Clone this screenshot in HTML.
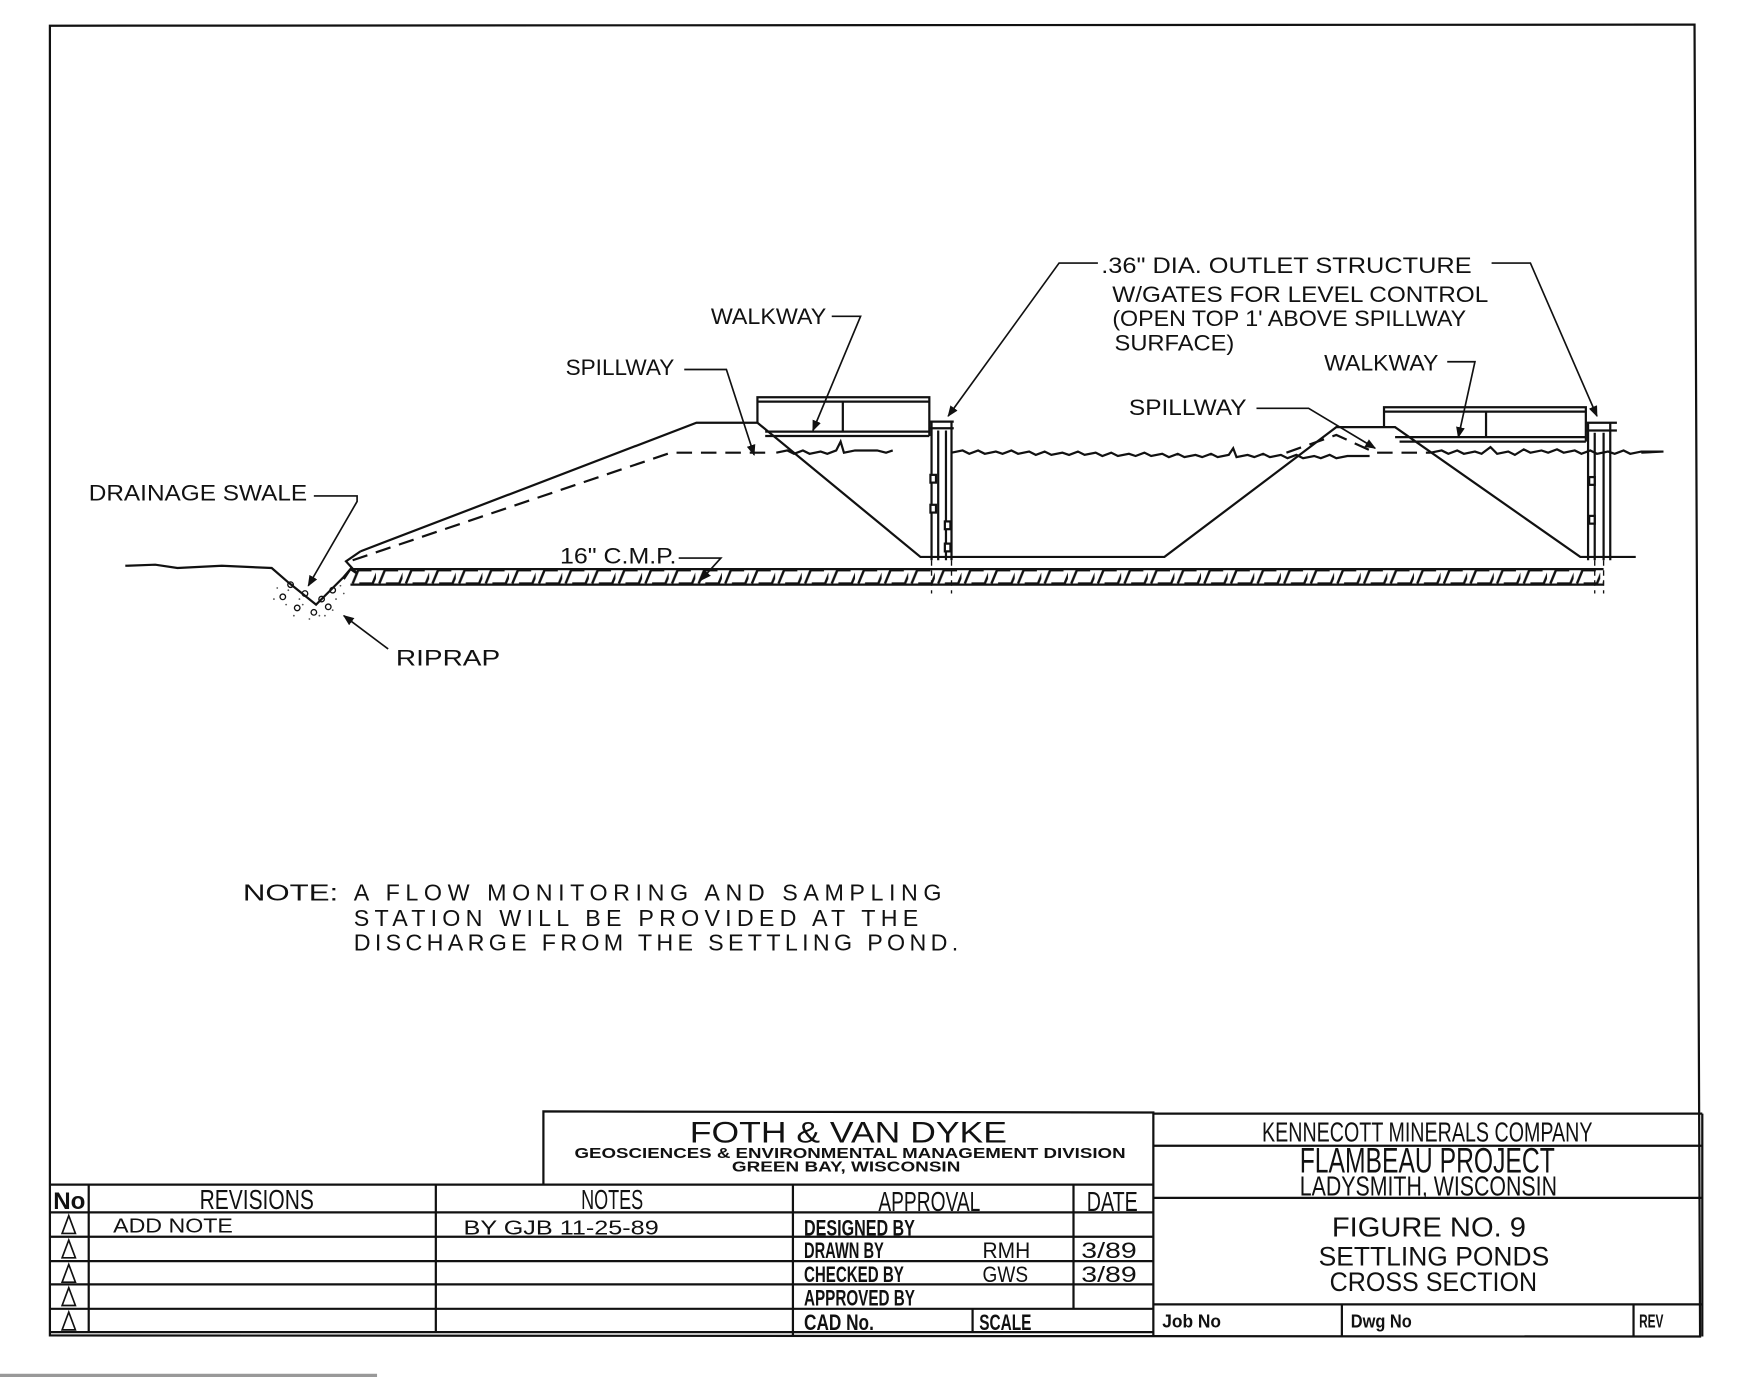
<!DOCTYPE html>
<html><head><meta charset="utf-8"><style>
html,body{margin:0;padding:0;background:#fff;}
svg{display:block;}
text{font-family:"Liberation Sans",sans-serif;fill:#111;}
</style></head><body>
<svg width="1740" height="1380" viewBox="0 0 1569 1244" xmlns="http://www.w3.org/2000/svg">
<defs>
<pattern id="hp" x="315" y="513" width="24" height="14" patternUnits="userSpaceOnUse">
<path d="M3 13 L8 1 L20 1 M9 13 L21 13 L26 1" fill="none" stroke="#111" stroke-width="2.2"/>
</pattern>
<marker id="ar" markerWidth="10" markerHeight="8" refX="9" refY="4" orient="auto" markerUnits="userSpaceOnUse"><path d="M0 0 L10 4 L0 8 Z" fill="#111"/></marker>
</defs>
<g fill="none" stroke="#111" stroke-width="2">
<path d="M45 23 L1528 22 L1533 1205 L45 1204 Z"/>
<line x1="0" y1="1240" x2="340" y2="1240" stroke="#999" stroke-width="3"/>
<path d="M113 510 L140 509 L160 512 L200 510 L245 512 L260 525 L285 545 L300 530 L310 520 L316 513" />
<path d="M310 522 L316 513 L322 517 L312 506 L325 497"/>
<rect x="316" y="513" width="1130" height="14" fill="url(#hp)" stroke="none"/>
<line x1="316" y1="513" x2="1446" y2="513"/>
<line x1="316" y1="527" x2="1446" y2="527"/>
<path d="M325 497 L628 381 L683 381 L830 502 L858 502 L1050 502 L1205 385 L1258 385 L1425 502 L1475 502"/>
<path d="M318 505 L605 408 L690 408" stroke-dasharray="14 8"/>
<path d="M1160 408 L1205 392 L1240 408 L1290 408" stroke-dasharray="14 8"/>
<path d="M700 408 l10 -2 l6 3 l8 -3 l6 3 l10 -2 l6 2 l8 -3 l4 -8 l3 10 l10 -2 l20 0 l8 2 l6 -2" />
<path d="M858 408 l10 -2 l6 3 l8 -3 l6 3 l10 -2 l6 2 l8 -3 l6 3 l10 -2 l6 3 l8 -3 l6 3 l10 -2 l6 2 l8 -3 l6 3 l10 -2 l6 3 l8 -3 l6 3 l10 -2 l6 2 l8 -3 l6 3 l10 -2 l6 3 l8 -3 l6 3 l10 -2 l6 2 l8 -3 l6 3 l10 -2 l4 -6 l3 8 l10 -2 l6 2 l8 -3 l6 3 l10 -2 l6 3 l8 -3 l6 3 l10 -2 l6 2 l8 -3 l6 3 l10 -2 l20 0"/>
<path d="M1290 408 l10 -2 l6 3 l8 -3 l6 3 l10 -2 l6 2 l8 -6 l6 6 l10 -2 l6 3 l8 -5 l6 3 l10 -2 l6 2 l8 -3 l6 3 l10 -2 l6 3 l8 -3 l6 3 l10 -2 l6 2 l8 -3 l6 3 l10 -2 l20 0 L1480 408" />
<path d="M683 381 L683 358 L838 358 L838 393 M683 362 L838 362 M690 389 L838 389 M690 393 L838 393 M760 362 L760 389"/>
<path d="M840 380 L840 505 M846 388 L846 505 M853 388 L853 505 M858 380 L858 505 M838 380 L860 380 M838 386 L860 386"/>
<path d="M840 505 L840 535 M858 505 L858 535" stroke-dasharray="5 4" stroke-width="1.2"/>
<rect x="839" y="428" width="5" height="7" fill="#fff"/><rect x="839" y="455" width="5" height="7" fill="#fff"/><rect x="852" y="470" width="5" height="7" fill="#fff"/><rect x="852" y="490" width="5" height="7" fill="#fff"/>
<path d="M1248 385 L1248 367 L1430 367 L1430 398 M1248 371 L1430 371 M1258 394 L1430 394 M1262 398 L1430 398 M1340 371 L1340 394"/>
<path d="M1432 381 L1432 505 M1438 390 L1438 505 M1446 390 L1446 505 M1452 381 L1452 505 M1430 381 L1458 381 M1430 388 L1458 388"/>
<path d="M1438 505 L1438 535 M1446 505 L1446 535" stroke-dasharray="5 4" stroke-width="1.2"/>
<rect x="1433" y="430" width="5" height="7" fill="#fff"/><rect x="1433" y="465" width="5" height="7" fill="#fff"/>
<g stroke-width="1.2"><circle cx="262" cy="527" r="2.5"/><circle cx="275" cy="535" r="2.5"/><circle cx="290" cy="540" r="2.5"/><circle cx="300" cy="532" r="2.5"/><circle cx="268" cy="548" r="2.5"/><circle cx="283" cy="552" r="2.5"/><circle cx="296" cy="547" r="2.5"/><circle cx="255" cy="538" r="2.5"/></g>
<g stroke="none" fill="#555"><circle cx="250" cy="530" r=".8"/><circle cx="258" cy="545" r=".8"/><circle cx="265" cy="555" r=".8"/><circle cx="273" cy="545" r=".8"/><circle cx="279" cy="558" r=".8"/><circle cx="288" cy="555" r=".8"/><circle cx="303" cy="540" r=".8"/><circle cx="307" cy="528" r=".8"/><circle cx="247" cy="540" r=".8"/><circle cx="260" cy="532" r=".8"/><circle cx="270" cy="540" r=".8"/><circle cx="293" cy="555" r=".8"/><circle cx="300" cy="550" r=".8"/><circle cx="310" cy="535" r=".8"/></g>
<g stroke-width="1.5">
<path d="M283 447 L322 447 L322 452 L278 528" marker-end="url(#ar)"/>
<path d="M350 585 L310 555" marker-end="url(#ar)"/>
<path d="M617 333 L655 333 L680 410" marker-end="url(#ar)"/>
<path d="M750 285 L776 285 L733 388" marker-end="url(#ar)"/>
<path d="M612 503 L650 503 L632 523" marker-end="url(#ar)"/>
<path d="M990 237 L955 237 L855 375" marker-end="url(#ar)"/>
<path d="M1345 237 L1380 237 L1440 375" marker-end="url(#ar)"/>
<path d="M1305 326 L1330 326 L1315 394" marker-end="url(#ar)"/>
<path d="M1133 368 L1180 368 L1240 404" marker-end="url(#ar)"/>
</g>
<path d="M490 1068 L490 1002 L1040 1003 L1040 1205"/>
<path d="M1040 1004 L1535 1004 M1040 1033 L1535 1033 M1040 1080 L1535 1080 M1040 1176 L1535 1176 M1535 1004 L1535 1205"/>
<path d="M45 1068 L1040 1068 M45 1093 L1040 1093 M45 1115 L1040 1115 M45 1137 L1040 1137 M45 1158 L1040 1158 M45 1180 L1040 1180 M45 1201 L1040 1201"/>
<path d="M80 1068 L80 1201 M393 1068 L393 1201 M715 1068 L715 1205 M968 1068 L968 1180 M877 1180 L877 1201 M1210 1176 L1210 1205 M1473 1176 L1473 1205"/>
<g stroke-width="1.5"><path d="M56 1112 L62 1096 L68 1112 Z M56 1134 L62 1118 L68 1134 Z M56 1156 L62 1140 L68 1156 Z M56 1177 L62 1161 L68 1177 Z M56 1199 L62 1183 L68 1199 Z"/></g>
</g>
<g font-size="20" lengthAdjust="spacingAndGlyphs">
<text x="80" y="451" textLength="197" lengthAdjust="spacingAndGlyphs">DRAINAGE SWALE</text>
<text x="357" y="600" textLength="94" lengthAdjust="spacingAndGlyphs">RIPRAP</text>
<text x="510" y="338" textLength="98" lengthAdjust="spacingAndGlyphs">SPILLWAY</text>
<text x="641" y="292" textLength="104" lengthAdjust="spacingAndGlyphs">WALKWAY</text>
<text x="505" y="508" textLength="105" lengthAdjust="spacingAndGlyphs">16" C.M.P.</text>
<text x="993" y="246" textLength="334" lengthAdjust="spacingAndGlyphs">.36" DIA. OUTLET STRUCTURE</text>
<text x="1003" y="272" textLength="339" lengthAdjust="spacingAndGlyphs">W/GATES FOR LEVEL CONTROL</text>
<text x="1003" y="294" textLength="319" lengthAdjust="spacingAndGlyphs">(OPEN TOP 1' ABOVE SPILLWAY</text>
<text x="1005" y="316" textLength="108" lengthAdjust="spacingAndGlyphs">SURFACE)</text>
<text x="1194" y="334" textLength="103" lengthAdjust="spacingAndGlyphs">WALKWAY</text>
<text x="1018" y="374" textLength="106" lengthAdjust="spacingAndGlyphs">SPILLWAY</text>
</g>
<g font-size="21">
<text x="219" y="812" textLength="86" lengthAdjust="spacingAndGlyphs">NOTE:</text>
<text x="319" y="812" textLength="530" lengthAdjust="spacing">A FLOW MONITORING AND SAMPLING</text>
<text x="319" y="835" textLength="509" lengthAdjust="spacing">STATION WILL BE PROVIDED AT THE</text>
<text x="319" y="857" textLength="545" lengthAdjust="spacing">DISCHARGE FROM THE SETTLING POND.</text>
</g>
<g>
<text x="622" y="1030" font-size="27" textLength="286" lengthAdjust="spacingAndGlyphs">FOTH &amp; VAN DYKE</text>
<text x="518" y="1044" font-size="13" font-weight="bold" textLength="497" lengthAdjust="spacingAndGlyphs">GEOSCIENCES &amp; ENVIRONMENTAL MANAGEMENT DIVISION</text>
<text x="660" y="1056" font-size="13" font-weight="bold" textLength="206" lengthAdjust="spacingAndGlyphs">GREEN BAY, WISCONSIN</text>
<text x="1138" y="1029" font-size="25" textLength="298" lengthAdjust="spacingAndGlyphs">KENNECOTT MINERALS COMPANY</text>
<text x="1172" y="1057" font-size="32" textLength="230" lengthAdjust="spacingAndGlyphs">FLAMBEAU PROJECT</text>
<text x="1172" y="1078" font-size="25" textLength="232" lengthAdjust="spacingAndGlyphs">LADYSMITH, WISCONSIN</text>
<text x="1201" y="1115" font-size="25" textLength="175" lengthAdjust="spacingAndGlyphs">FIGURE NO. 9</text>
<text x="1189" y="1141" font-size="24" textLength="208" lengthAdjust="spacingAndGlyphs">SETTLING PONDS</text>
<text x="1199" y="1164" font-size="24" textLength="187" lengthAdjust="spacingAndGlyphs">CROSS SECTION</text>
<text x="48" y="1090" font-size="22" font-weight="bold" textLength="29" lengthAdjust="spacingAndGlyphs">No</text>
<text x="180" y="1090" font-size="25" textLength="103" lengthAdjust="spacingAndGlyphs">REVISIONS</text>
<text x="524" y="1090" font-size="25" textLength="56" lengthAdjust="spacingAndGlyphs">NOTES</text>
<text x="792" y="1092" font-size="25" textLength="92" lengthAdjust="spacingAndGlyphs">APPROVAL</text>
<text x="980" y="1092" font-size="25" textLength="46" lengthAdjust="spacingAndGlyphs">DATE</text>
<text x="102" y="1111" font-size="18" textLength="108" lengthAdjust="spacingAndGlyphs">ADD NOTE</text>
<text x="418" y="1113" font-size="18" textLength="176" lengthAdjust="spacingAndGlyphs">BY GJB  11-25-89</text>
<g font-size="20" font-weight="bold">
<text x="725" y="1114" textLength="100" lengthAdjust="spacingAndGlyphs">DESIGNED BY</text>
<text x="725" y="1134" textLength="72" lengthAdjust="spacingAndGlyphs">DRAWN BY</text>
<text x="725" y="1156" textLength="90" lengthAdjust="spacingAndGlyphs">CHECKED BY</text>
<text x="725" y="1177" textLength="100" lengthAdjust="spacingAndGlyphs">APPROVED BY</text>
<text x="725" y="1199" textLength="63" lengthAdjust="spacingAndGlyphs">CAD No.</text>
<text x="883" y="1199" textLength="47" lengthAdjust="spacingAndGlyphs">SCALE</text>
<text x="1048" y="1197" font-size="17" textLength="53" lengthAdjust="spacingAndGlyphs">Job No</text>
<text x="1218" y="1197" font-size="17" textLength="55" lengthAdjust="spacingAndGlyphs">Dwg No</text>
<text x="1478" y="1197" font-size="17" textLength="22" lengthAdjust="spacingAndGlyphs">REV</text>
</g>
<g font-size="20">
<text x="886" y="1134" textLength="43" lengthAdjust="spacingAndGlyphs">RMH</text>
<text x="886" y="1156" textLength="41" lengthAdjust="spacingAndGlyphs">GWS</text>
<text x="975" y="1134" textLength="50" lengthAdjust="spacingAndGlyphs">3/89</text>
<text x="975" y="1156" textLength="50" lengthAdjust="spacingAndGlyphs">3/89</text>
</g>
</g>
</svg>
</body></html>
